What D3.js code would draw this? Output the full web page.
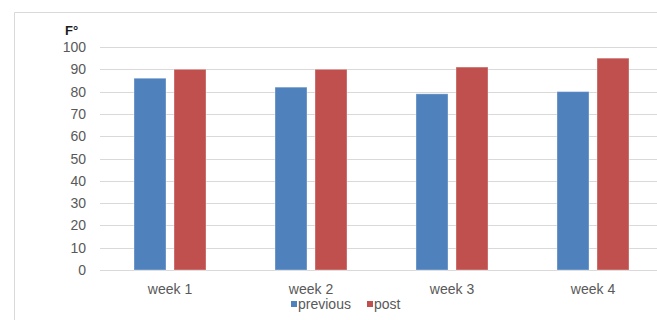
<!DOCTYPE html>
<html>
<head>
<meta charset="utf-8">
<script src="https://cdn.jsdelivr.net/npm/d3@7"></script>
<style>
  html, body { margin: 0; padding: 0; background: #fff; }
  svg { display: block; }
  text { font-family: "Liberation Sans", Arial, sans-serif; }
</style>
</head>
<body>
<svg id="chart" width="657" height="320"></svg>
<script>
// Weekly temperatures (°F), before and after
const weeks = ["week 1", "week 2", "week 3", "week 4"];
const seriesNames = ["previous", "post"];
const previous = [86, 82, 79, 80];
const post = [90, 90, 91, 95];
const yTicks = [0, 10, 20, 30, 40, 50, 60, 70, 80, 90, 100];
const colors = ["#4f81bd", "#c0504d"];

const svg = d3.select("#chart");
const W = 657, H = 320;

// chart frame
svg.append("path")
  .attr("d", `M14.5,${H} V12.5 H${W}`)
  .attr("fill", "none")
  .attr("stroke", "#d9d9d9")
  .attr("stroke-width", 1);

const x0 = d3.scaleBand().domain(weeks).range([99.5, 663.5]).padding(0);
const x1 = d3.scaleBand().domain(seriesNames).range([-36, 36]).paddingInner(0.2);
const y = d3.scaleLinear().domain([0, 100]).range([270, 47]);

// horizontal gridlines
svg.append("g")
  .selectAll("line")
  .data(yTicks)
  .join("line")
  .attr("x1", 100)
  .attr("x2", W)
  .attr("y1", d => Math.round(y(d)) + 0.5)
  .attr("y2", d => Math.round(y(d)) + 0.5)
  .attr("stroke", "#d9d9d9")
  .attr("stroke-width", 1);

// y tick labels
svg.append("g")
  .selectAll("text")
  .data(yTicks)
  .join("text")
  .attr("x", 86)
  .attr("y", d => y(d) + 5)
  .attr("text-anchor", "end")
  .attr("font-size", 14)
  .attr("fill", "#595959")
  .text(d => d);

// unit label
svg.append("text")
  .attr("x", 65)
  .attr("y", 35)
  .attr("font-size", 13)
  .attr("font-weight", "bold")
  .attr("fill", "#1a1a1a")
  .text("F°");

// bars
const rows = weeks.map((w, i) => ({ week: w, values: [previous[i], post[i]] }));
const groups = svg.append("g")
  .selectAll("g")
  .data(rows)
  .join("g")
  .attr("transform", d => `translate(${x0(d.week) + x0.bandwidth() / 2},0)`);

groups.selectAll("rect")
  .data(d => d.values.map((v, j) => ({ name: seriesNames[j], value: v, j })))
  .join("rect")
  .attr("x", d => x1(d.name))
  .attr("width", x1.bandwidth())
  .attr("y", d => y(d.value))
  .attr("height", d => y(0) - y(d.value))
  .attr("fill", d => colors[d.j])
  .attr("stroke", "rgba(255,255,255,0.35)")
  .attr("stroke-width", 1);

// category labels
svg.append("g")
  .selectAll("text")
  .data(weeks)
  .join("text")
  .attr("x", d => x0(d) + x0.bandwidth() / 2)
  .attr("y", 294)
  .attr("text-anchor", "middle")
  .attr("font-size", 14)
  .attr("fill", "#595959")
  .text(d => d);

// legend
const legendItems = [
  { name: "previous", x: 291 },
  { name: "post", x: 367 }
];
const legend = svg.append("g");
legendItems.forEach((it, i) => {
  legend.append("rect")
    .attr("x", it.x)
    .attr("y", 301)
    .attr("width", 6)
    .attr("height", 6)
    .attr("fill", colors[i]);
  legend.append("text")
    .attr("x", it.x + 7)
    .attr("y", 308.5)
    .attr("font-size", 14)
    .attr("fill", "#595959")
    .text(it.name);
});
</script>
</body>
</html>
